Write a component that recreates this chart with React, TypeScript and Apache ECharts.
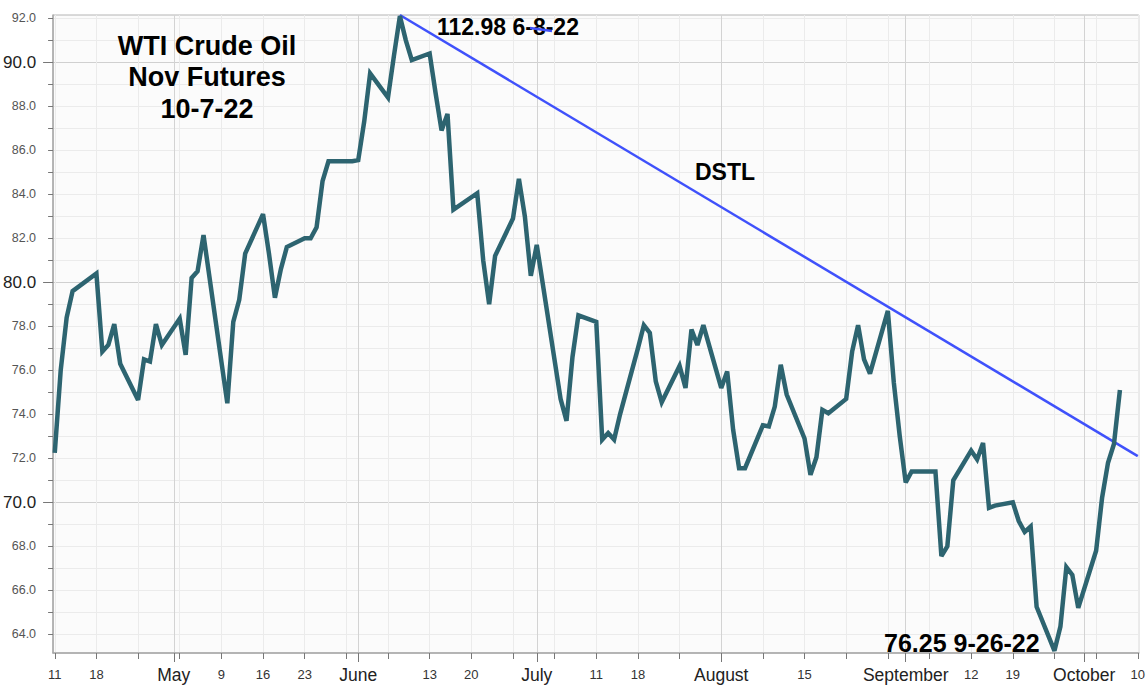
import React, { useEffect, useRef } from "react";
import * as echarts from "echarts";

const FONT = "'Liberation Sans', Arial, sans-serif";

const dates = [
  "2022-04-11","2022-04-12","2022-04-13","2022-04-14","2022-04-18","2022-04-19","2022-04-20","2022-04-21","2022-04-22",
  "2022-04-25","2022-04-26","2022-04-27","2022-04-28","2022-04-29",
  "2022-05-02","2022-05-03","2022-05-04","2022-05-05","2022-05-06",
  "2022-05-09","2022-05-10","2022-05-11","2022-05-12","2022-05-13",
  "2022-05-16","2022-05-17","2022-05-18","2022-05-19","2022-05-20",
  "2022-05-23","2022-05-24","2022-05-25","2022-05-26","2022-05-27",
  "2022-05-31","2022-06-01","2022-06-02","2022-06-03",
  "2022-06-06","2022-06-07","2022-06-08","2022-06-09","2022-06-10",
  "2022-06-13","2022-06-14","2022-06-15","2022-06-16","2022-06-17",
  "2022-06-21","2022-06-22","2022-06-23","2022-06-24",
  "2022-06-27","2022-06-28","2022-06-29","2022-06-30","2022-07-01",
  "2022-07-05","2022-07-06","2022-07-07","2022-07-08",
  "2022-07-11","2022-07-12","2022-07-13","2022-07-14","2022-07-15",
  "2022-07-18","2022-07-19","2022-07-20","2022-07-21","2022-07-22",
  "2022-07-25","2022-07-26","2022-07-27","2022-07-28","2022-07-29",
  "2022-08-01","2022-08-02","2022-08-03","2022-08-04","2022-08-05",
  "2022-08-08","2022-08-09","2022-08-10","2022-08-11","2022-08-12",
  "2022-08-15","2022-08-16","2022-08-17","2022-08-18","2022-08-19",
  "2022-08-22","2022-08-23","2022-08-24","2022-08-25","2022-08-26",
  "2022-08-29","2022-08-30","2022-08-31","2022-09-01","2022-09-02",
  "2022-09-06","2022-09-07","2022-09-08","2022-09-09",
  "2022-09-12","2022-09-13","2022-09-14","2022-09-15","2022-09-16",
  "2022-09-19","2022-09-20","2022-09-21","2022-09-22","2022-09-23",
  "2022-09-26","2022-09-27","2022-09-28","2022-09-29","2022-09-30",
  "2022-10-03","2022-10-04","2022-10-05","2022-10-06","2022-10-07",
];

const prices = [
  72.25, 76.0, 78.4, 79.6, 80.4, 76.85, 77.15, 78.1, 76.3,
  74.65, 76.5, 76.4, 78.1, 77.15,
  78.35, 76.7, 80.2, 80.5, 82.15,
  76.4, 74.5, 78.2, 79.2, 81.3,
  83.1, 81.3, 79.3, 80.6, 81.6,
  82.0, 82.0, 82.5, 84.6, 85.5,
  85.5, 85.55, 87.3, 89.5,
  88.4, 90.3, 92.1, 91.0, 90.1,
  90.4, 88.6, 86.9, 87.65, 83.3,
  84.05, 81.0, 79.0, 81.2,
  82.9, 84.7, 83.0, 80.3, 81.7,
  74.7, 73.7, 76.6, 78.5,
  78.2, 72.85, 73.15, 72.85, 74.0,
  77.0, 78.05, 77.7, 75.5, 74.55,
  76.2, 75.2, 77.85, 77.15, 78.05,
  75.2, 75.95, 73.3, 71.55, 71.55,
  73.5, 73.45, 74.35, 76.25, 74.9,
  72.9, 71.25, 72.05, 74.2, 74.05,
  74.7, 76.85, 78.05, 76.5, 75.85,
  78.7, 75.45, 73.0, 70.9, 71.4,
  71.4, 67.55, 68.0, 71.0,
  72.35, 71.95, 72.7, 69.75, 69.85,
  70.0, 69.15, 68.65, 68.9, 65.25,
  63.25, 64.35, 67.05, 66.7, 65.2,
  67.8, 70.2, 71.8, 72.65, 75.1,
];

// Down-sloping trend line (DSTL)
const dstlDates = ["2022-06-08", "2022-10-10"];
const dstlValues = [92.15, 72.1];

// Axis ticks and labels
const weekTicks = [
  "2022-04-11","2022-04-18","2022-04-25","2022-05-02","2022-05-09","2022-05-16","2022-05-23","2022-05-30",
  "2022-06-06","2022-06-13","2022-06-20","2022-06-27","2022-07-04","2022-07-11","2022-07-18","2022-07-25",
  "2022-08-01","2022-08-08","2022-08-15","2022-08-22","2022-08-29","2022-09-05","2022-09-12","2022-09-19",
  "2022-09-26","2022-10-03","2022-10-10",
];
const weekLabels = [
  "11","18","","","9","16","23","",
  "","13","20","","","11","18","",
  "","","15","","","","12","19",
  "","","10",
];
const monthTicks = ["2022-05-01","2022-06-01","2022-07-01","2022-08-01","2022-09-01","2022-10-01"];
const monthLabels = ["May","June","July","August","September","October"];

const yTicks = [64,65,66,67,68,69,70,71,72,73,74,75,76,77,78,79,80,81,82,83,84,85,86,87,88,89,90,91,92];
const yLabelValues = [64,66,68,70,72,74,76,78,80,82,84,86,88,90,92];
const yMajor = [70, 80, 90];

const X_START = "2022-04-11";
const X_END = "2022-10-10";

const dayOf = (s: string) => {
  const [y, m, d] = s.split("-").map(Number);
  const [y0, m0, d0] = X_START.split("-").map(Number);
  return (Date.UTC(y, m - 1, d) - Date.UTC(y0, m0 - 1, d0)) / 86400000;
};

export default function App() {
  const ref = useRef<HTMLDivElement>(null);

  useEffect(() => {
    if (!ref.current) return;
    const chart = echarts.init(ref.current, null, { renderer: "svg" });

    const weekDays = weekTicks.map(dayOf);
    const monthDays = monthTicks.map(dayOf);
    const xMin = dayOf(X_START) - 0.28;
    const xMax = dayOf(X_END) + 0.17;

    const findLabel = (v: number, ticks: number[], labels: string[]) => {
      const i = ticks.findIndex((t) => Math.abs(t - v) < 0.01);
      return i >= 0 ? labels[i] : "";
    };

    const priceData = dates.map((d, i) => [dayOf(d), prices[i]]);
    const dstlData = dstlDates.map((d, i) => [dayOf(d), dstlValues[i]]);

    chart.setOption({
      animation: false,
      textStyle: { fontFamily: FONT },
      grid: {
        left: 53,
        right: 2,
        top: 15,
        bottom: 33,
        show: true,
        backgroundColor: "#fbfbfb",
        borderColor: "#b4b4b4",
        borderWidth: 1,
      },
      xAxis: [
        {
          type: "value",
          min: xMin,
          max: xMax,
          position: "bottom",
          axisLine: { show: true, onZero: false, lineStyle: { color: "#a8a8a8", width: 1.5 } },
          axisTick: { show: true, customValues: weekDays, length: 6, lineStyle: { color: "#777" } },
          axisLabel: {
            customValues: weekDays,
            formatter: (v: number) => findLabel(v, weekDays, weekLabels),
            fontSize: 13,
            color: "#333",
            margin: 15,
            fontFamily: FONT,
          },
          splitLine: { show: true, lineStyle: { color: "#ebebeb", width: 1 } },
        },
        {
          type: "value",
          min: xMin,
          max: xMax,
          position: "bottom",
          axisLine: { show: false, onZero: false },
          axisTick: { show: true, customValues: monthDays, length: 9, lineStyle: { color: "#777" } },
          axisLabel: {
            customValues: monthDays,
            formatter: (v: number) => findLabel(v, monthDays, monthLabels),
            fontSize: 17.5,
            color: "#222",
            margin: 13,
            fontFamily: FONT,
          },
          splitLine: { show: true, lineStyle: { color: "#d3d3d3", width: 1 } },
        },
      ],
      yAxis: [
        {
          type: "value",
          min: 63.15,
          max: 92.15,
          position: "left",
          axisLine: { show: true, onZero: false, lineStyle: { color: "#a8a8a8", width: 1.5 } },
          axisTick: { show: true, customValues: yTicks, length: 5, lineStyle: { color: "#777" } },
          axisLabel: {
            customValues: yLabelValues,
            margin: 17,
            formatter: (v: number) =>
              v % 10 === 0 ? `{big|${v.toFixed(1)}}` : `{small|${v.toFixed(1)}}`,
            rich: {
              big: { fontSize: 17, color: "#222", fontFamily: FONT },
              small: { fontSize: 12.5, color: "#555", fontFamily: FONT },
            },
          },
          splitLine: { show: true, lineStyle: { color: "#ebebeb", width: 1 } },
        },
        {
          type: "value",
          min: 63.15,
          max: 92.15,
          position: "left",
          axisLine: { show: false, onZero: false },
          axisTick: { show: true, customValues: yMajor, length: 10, lineStyle: { color: "#777" } },
          axisLabel: { show: false },
          splitLine: { show: true, lineStyle: { color: "#d0d0d0", width: 1 } },
        },
      ],
      series: [
        {
          type: "line",
          name: "DSTL",
          xAxisIndex: 0,
          yAxisIndex: 0,
          data: dstlData,
          showSymbol: false,
          symbol: "none",
          lineStyle: { color: "#3f51fb", width: 2.5 },
          z: 3,
        },
        {
          type: "line",
          name: "WTI Nov",
          xAxisIndex: 0,
          yAxisIndex: 0,
          data: priceData,
          showSymbol: false,
          symbol: "none",
          lineStyle: { color: "#2d6470", width: 4.5, join: "miter", miterLimit: 3, cap: "butt" },
          z: 4,
        },
      ],
      graphic: [
        {
          type: "text",
          x: 207,
          y: 30,
          z: 10,
          style: {
            text: "WTI Crude Oil\nNov Futures\n10-7-22",
            font: `bold 27px ${FONT}`,
            fill: "#000",
            align: "center",
            verticalAlign: "top",
            textAlign: "center",
            textVerticalAlign: "top",
            lineHeight: 31.5,
          },
        },
        {
          type: "text",
          x: 437,
          y: 27,
          z: 10,
          style: {
            text: "112.98 6-8-22",
            font: `bold 23px ${FONT}`,
            fill: "#000",
            align: "left",
            verticalAlign: "middle",
            textAlign: "left",
            textVerticalAlign: "middle",
          },
        },
        {
          type: "line",
          z: 11,
          shape: { x1: 530, y1: 28, x2: 552, y2: 31 },
          style: { stroke: "#3f51fb", lineWidth: 2.5 },
        },
        {
          type: "text",
          x: 695,
          y: 172,
          z: 10,
          style: {
            text: "DSTL",
            font: `bold 23px ${FONT}`,
            fill: "#000",
            align: "left",
            verticalAlign: "middle",
            textAlign: "left",
            textVerticalAlign: "middle",
          },
        },
        {
          type: "text",
          x: 884,
          y: 643,
          z: 10,
          style: {
            text: "76.25 9-26-22",
            font: `bold 25px ${FONT}`,
            fill: "#000",
            align: "left",
            verticalAlign: "middle",
            textAlign: "left",
            textVerticalAlign: "middle",
          },
        },
      ],
    });

    return () => chart.dispose();
  }, []);

  return (
    <div
      ref={ref}
      style={{ position: "absolute", left: 0, top: 0, width: 1148, height: 686, background: "#fff" }}
    />
  );
}
